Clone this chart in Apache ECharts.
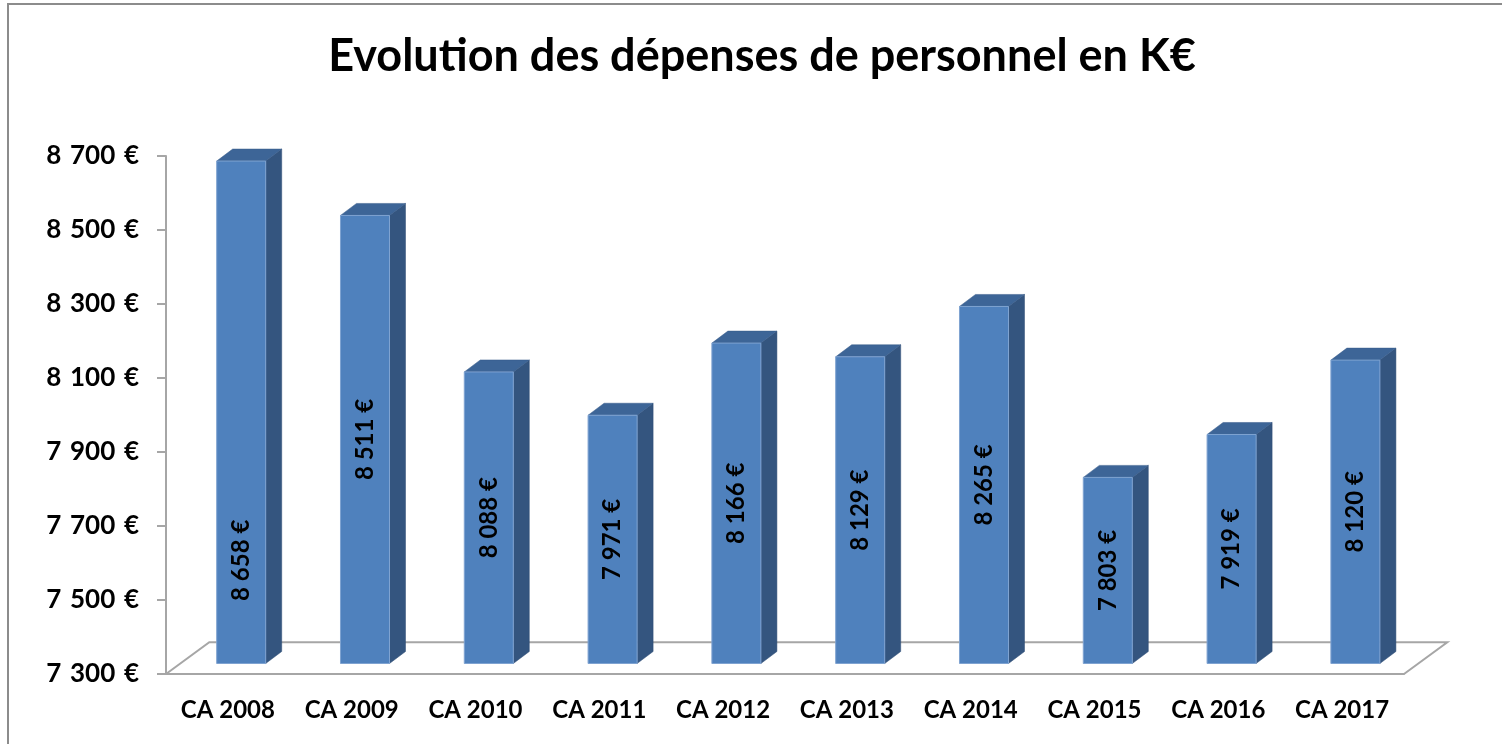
<!DOCTYPE html>
<html>
<head>
<meta charset="utf-8">
<script src="https://cdn.jsdelivr.net/npm/echarts@6/dist/echarts.min.js"></script>
<style>
  html, body { margin: 0; padding: 0; background: #fff; }
  #chart { width: 1502px; height: 744px; }
</style>
</head>
<body>
<div id="chart"></div>
<script>
var categories = ['CA 2008', 'CA 2009', 'CA 2010', 'CA 2011', 'CA 2012',
                  'CA 2013', 'CA 2014', 'CA 2015', 'CA 2016', 'CA 2017'];
var depenses = [8658, 8511, 8088, 7971, 8166, 8129, 8265, 7803, 7919, 8120];
var axisMin = 7300;
var axisMax = 8700;
var axisStep = 200;

// 3d look, in pixels
var barShift = [13.3, -10.5];   // bar front face vs. floor front edge
var barDepth = [16, -12];
var floorDepth = [43.3, -31.7];
var firstLabelDrop = 148;       // the 2008 label sits low in the original

function euro(v, sep) {
    sep = sep || ' ';
    return String(v).replace(/\B(?=(\d{3})+(?!\d))/g, sep) + sep + '€';
}

var myChart = echarts.init(document.getElementById('chart'), null, { renderer: 'canvas' });

function renderFloor(params, api) {
    var p = api.coord([0, axisMin]);
    var w = api.size([1, 0])[0];
    var left = p[0] - w / 2;
    var right = left + w * categories.length;
    var y = p[1];
    return {
        type: 'polyline',
        shape: {
            points: [
                [left, y],
                [left + floorDepth[0], y + floorDepth[1]],
                [right + floorDepth[0], y + floorDepth[1]],
                [right, y]
            ]
        },
        style: { stroke: '#a6a6a6', lineWidth: 2, fill: null }
    };
}

function renderBar(params, api) {
    var i = api.value(0);
    var v = api.value(1);
    var top = api.coord([i, v]);
    var base = api.coord([i, axisMin]);
    var bw = api.size([1, 0])[0] * 0.396;
    var x = top[0] + barShift[0] - bw / 2;
    var y = top[1] + barShift[1];
    var h = base[1] - top[1];
    var dx = barDepth[0], dy = barDepth[1];
    var ly = y + h / 2 + (i === 0 ? firstLabelDrop : 0);
    return {
        type: 'group',
        children: [
            {
                type: 'polygon',
                shape: { points: [[x + bw, y], [x + bw + dx, y + dy], [x + bw + dx, y + h + dy], [x + bw, y + h]] },
                style: { fill: '#34557f', stroke: '#2f4d74', lineWidth: 0.5 }
            },
            {
                type: 'polygon',
                shape: { points: [[x, y], [x + dx, y + dy], [x + bw + dx, y + dy], [x + bw, y]] },
                style: { fill: '#3d6597', stroke: '#365a88', lineWidth: 0.5 }
            },
            {
                type: 'rect',
                shape: { x: x, y: y, width: bw, height: h },
                style: { fill: '#4f81bd', stroke: '#7fa3d1', lineWidth: 1 }
            },
            {
                type: 'text',
                x: x + bw / 2,
                y: ly,
                rotation: Math.PI / 2,
                style: {
                    text: euro(v),
                    fill: '#000',
                    font: 'bold 24px Lato',
                    align: 'center',
                    verticalAlign: 'middle'
                }
            }
        ]
    };
}

var option = {
    backgroundColor: '#fff',
    animation: false,
    title: {
        text: 'Evolution des dépenses de personnel en K€',
        left: 757,
        top: 29,
        textAlign: 'center',
        textStyle: { fontFamily: 'Lato', fontWeight: 'bold', fontSize: 45, color: '#000' }
    },
    graphic: [
        {
            type: 'rect',
            shape: { x: 8, y: 4, width: 1600, height: 800 },
            style: { fill: null, stroke: '#8c8c8c', lineWidth: 2 }
        }
    ],
    grid: { left: 166, right: 98, top: 156, bottom: 70 },
    xAxis: {
        type: 'category',
        data: categories,
        axisLine: { lineStyle: { color: '#a6a6a6', width: 2 } },
        axisTick: { length: 8, lineStyle: { color: '#a6a6a6', width: 2 } },
        axisLabel: { margin: 24, color: '#000', fontFamily: 'Lato', fontWeight: 'bold', fontSize: 24 }
    },
    yAxis: {
        type: 'value',
        min: axisMin,
        max: axisMax,
        interval: axisStep,
        splitLine: { show: false },
        axisLine: { show: true, lineStyle: { color: '#a6a6a6', width: 2 } },
        axisTick: { show: true, length: 9, lineStyle: { color: '#a6a6a6', width: 2 } },
        axisLabel: {
            margin: 27,
            color: '#000',
            fontFamily: 'Lato',
            fontWeight: 'bold',
            fontSize: 26,
            formatter: function (v) { return euro(v, '\u2004'); }
        }
    },
    series: [
        {
            type: 'custom',
            renderItem: renderFloor,
            data: [[0, axisMin]],
            clip: false,
            z: 1,
            silent: true
        },
        {
            type: 'custom',
            renderItem: renderBar,
            data: depenses.map(function (v, i) { return [i, v]; }),
            clip: false,
            z: 2
        }
    ]
};

myChart.setOption(option);
</script>
</body>
</html>
